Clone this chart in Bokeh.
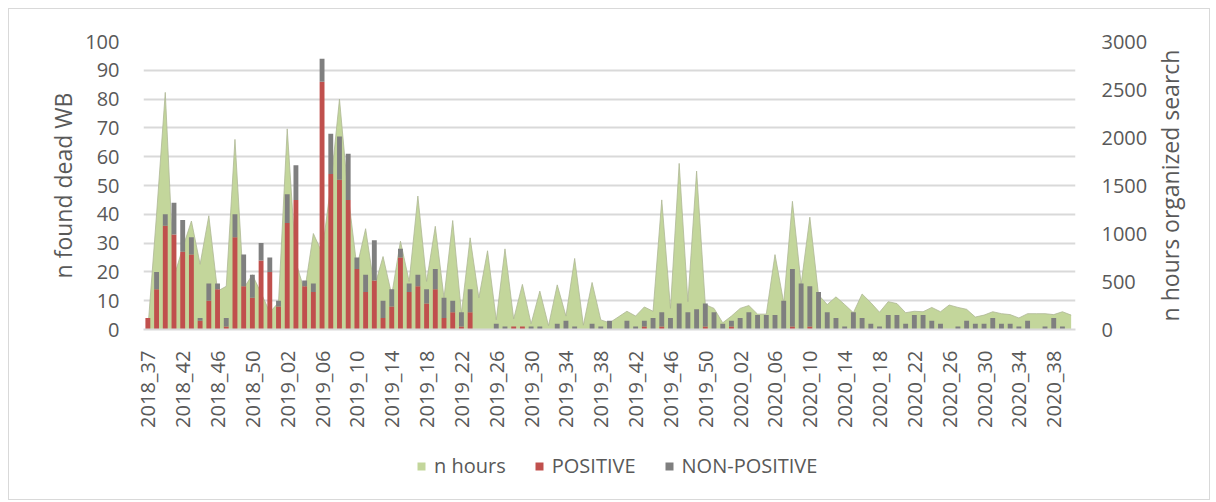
from math import pi
from bokeh.plotting import figure
from bokeh.layouts import column, row
from bokeh.models import (Range1d, LinearAxis, SingleIntervalTicker, FixedTicker,
                          Legend, LegendItem, ColumnDataSource)
from bokeh.embed import file_html
from bokeh.resources import INLINE

# ---- categories (weeks) ----
weeks_2018 = [37, 38, 39, 41, 42, 43, 44, 45, 46, 47, 48, 49, 50, 51, 52]
weeks_2019 = list(range(1, 53))
weeks_2020 = list(range(1, 41))
weeks = ([f"2018_{w:02d}" for w in weeks_2018] + [f"2019_{w:02d}" for w in weeks_2019]
         + [f"2020_{w:02d}" for w in weeks_2020])
label_step = 4

# ---- series ----
positive = [4, 14, 36, 33, 27, 26, 3, 10, 14, 1,
            32, 15, 11, 24, 20, 8, 37, 45, 15, 13,
            86, 54, 52, 45, 21, 13, 17, 4, 8, 25,
            13, 15, 9, 14, 4, 6, 1, 6, 0, 0,
            0, 0, 1, 1, 0, 0, 0, 0, 0, 0,
            0, 0, 0, 0, 0, 0, 0, 1, 0, 1,
            0, 0, 0, 0, 1, 0, 0, 1, 0, 0,
            0, 0, 0, 0, 1, 0, 1, 0, 0, 0,
            0, 0, 0, 0, 0, 0, 0, 0, 0, 0,
            0, 0, 0, 0, 0, 0, 0, 0, 0, 0,
            0, 0, 0, 0, 0, 0, 0]
non_positive = [0, 6, 4, 11, 11, 6, 1, 6, 2, 3,
                8, 11, 8, 6, 5, 2, 10, 12, 2, 3,
                8, 14, 15, 16, 4, 6, 14, 6, 6, 3,
                3, 4, 5, 7, 7, 4, 5, 8, 0, 0,
                2, 1, 0, 0, 1, 1, 0, 2, 3, 1,
                0, 2, 1, 3, 0, 3, 1, 2, 4, 5,
                4, 9, 6, 7, 8, 6, 2, 2, 4, 6,
                5, 5, 5, 10, 20, 16, 14, 13, 6, 4,
                1, 6, 4, 2, 1, 5, 5, 2, 5, 5,
                3, 2, 0, 1, 3, 2, 2, 4, 2, 2,
                1, 3, 0, 1, 4, 1, 0]
hours = [0, 1200, 2470, 550, 850, 1130, 680, 1185, 400, 450,
         1980, 430, 570, 380, 180, 280, 2090, 700, 400, 1000,
         800, 1500, 2400, 1400, 650, 1050, 440, 760, 360, 920,
         500, 1390, 500, 1075, 330, 1135, 170, 955, 330, 820,
         100, 840, 110, 470, 60, 400, 40, 465, 140, 740,
         45, 490, 100, 70, 130, 190, 140, 235, 190, 1350,
         220, 1730, 290, 1650, 260, 220, 70, 140, 220, 250,
         160, 160, 780, 280, 1335, 470, 1170, 360, 260, 340,
         260, 175, 370, 280, 180, 290, 270, 175, 190, 185,
         230, 185, 255, 230, 210, 130, 150, 185, 165, 155,
         120, 165, 165, 165, 155, 185, 150]

n = len(weeks)
idx = list(range(n))
total = [a + b for a, b in zip(positive, non_positive)]
src = ColumnDataSource(dict(i=idx, week=weeks, positive=positive, non_positive=non_positive,
                            total=total, hours=hours))

FONT = "Open Sans"
TXT = "#595959"
GREEN, RED, GREY = "#C3D69B", "#C0504D", "#7F7F7F"

p = figure(x_range=Range1d(-0.5, n - 0.5), y_range=Range1d(0, 100),
           width=1141, height=430, output_backend="svg", toolbar_location=None,
           min_border_left=134, min_border_right=74, min_border_top=32, min_border_bottom=110)
p.extra_y_ranges = {"hours": Range1d(0, 3000)}
p.outline_line_color = None

p.varea(x="i", y1=0, y2="hours", source=src, fill_color=GREEN, y_range_name="hours")
p.line(x="i", y="hours", source=src, line_color="#AEB896", line_width=0.8,
       y_range_name="hours")
p.vbar(x="i", bottom=0, top="positive", width=0.56, source=src,
       fill_color=RED, line_color=None)
p.vbar(x="i", bottom="positive", top="total", width=0.56, source=src,
       fill_color=GREY, line_color=None)

# left axis
lt = SingleIntervalTicker(interval=10, num_minor_ticks=0)
p.yaxis.ticker = lt
p.ygrid.ticker = lt
p.ygrid.grid_line_color = "#D9D9D9"
p.ygrid.grid_line_width = 2
p.xgrid.grid_line_color = None
ya = p.yaxis[0]
ya.axis_label = "n found dead WB"
ya.axis_label_standoff = 3
ya.major_label_standoff = 18

# right axis (ticks only; its title is drawn in the strip to the right)
ra = LinearAxis(y_range_name="hours", ticker=SingleIntervalTicker(interval=500, num_minor_ticks=0))
ra.major_label_standoff = 20
p.add_layout(ra, "right")

for ax in (ya, ra):
    ax.axis_line_color = None
    ax.major_tick_line_color = None
    ax.minor_tick_line_color = None
    ax.major_label_text_font = FONT
    ax.major_label_text_font_size = "20px"
    ax.major_label_text_color = TXT
    ax.axis_label_text_font = FONT
    ax.axis_label_text_font_size = "23px"
    ax.axis_label_text_font_style = "normal"
    ax.axis_label_text_color = TXT

xa = p.xaxis[0]
xa.ticker = FixedTicker(ticks=idx[::label_step])
xa.major_label_overrides = {i: weeks[i] for i in idx[::label_step]}
xa.axis_line_color = "#D9D9D9"
xa.axis_line_width = 2
xa.major_tick_line_color = None
xa.minor_tick_line_color = None
xa.major_label_orientation = pi / 2
xa.major_label_standoff = 15
xa.major_label_text_font = FONT
xa.major_label_text_font_size = "20px"
xa.major_label_text_color = TXT

# ---- right title strip (secondary-axis title, reading bottom-to-top) ----
tf = figure(x_range=Range1d(0, 1), y_range=Range1d(0, 1), width=59, height=430,
            output_backend="svg", toolbar_location=None, x_axis_location=None,
            y_axis_location="left",
            min_border_left=29, min_border_right=0, min_border_top=32, min_border_bottom=110)
tf.grid.visible = False
tf.outline_line_color = None
ta = tf.yaxis[0]
ta.ticker = FixedTicker(ticks=[])
ta.axis_line_color = None
ta.major_tick_line_color = None
ta.minor_tick_line_color = None
ta.major_tick_out = 0
ta.major_label_text_font_size = "0px"
ta.axis_label = "n hours organized search"
ta.axis_label_standoff = 0
ta.axis_label_text_font = FONT
ta.axis_label_text_font_size = "23px"
ta.axis_label_text_font_style = "normal"
ta.axis_label_text_color = TXT

# ---- legend strip ----
lf = figure(x_range=Range1d(0, 1), y_range=Range1d(0, 1), width=1200, height=60,
            output_backend="svg", toolbar_location=None,
            x_axis_location=None, y_axis_location=None,
            min_border_left=0, min_border_right=0, min_border_top=0, min_border_bottom=0)
lf.grid.visible = False
lf.outline_line_color = None
r_area = lf.varea(x=[5, 6], y1=[0, 0], y2=[1, 1], fill_color=GREEN)
r_red = lf.vbar(x=[5], top=[1], width=0.5, fill_color=RED, line_color=None)
r_grey = lf.vbar(x=[5], top=[1], width=0.5, fill_color=GREY, line_color=None)
legend = Legend(items=[LegendItem(label="n hours", renderers=[r_area]),
                       LegendItem(label="POSITIVE", renderers=[r_red]),
                       LegendItem(label="NON-POSITIVE", renderers=[r_grey])],
                orientation="horizontal", location=(407, 20),
                glyph_width=10, glyph_height=10, label_standoff=8, spacing=28,
                padding=0, margin=0, border_line_color=None, background_fill_alpha=0,
                label_text_font=FONT, label_text_font_size="20px", label_text_color=TXT)
lf.add_layout(legend)

layout = column(row(p, tf, spacing=0), lf, spacing=0, margin=(8, 0, 0, 8))
layout.styles = {"border": "1px solid #D9D9D9"}

open("out.html", "w").write(file_html(layout, INLINE))
